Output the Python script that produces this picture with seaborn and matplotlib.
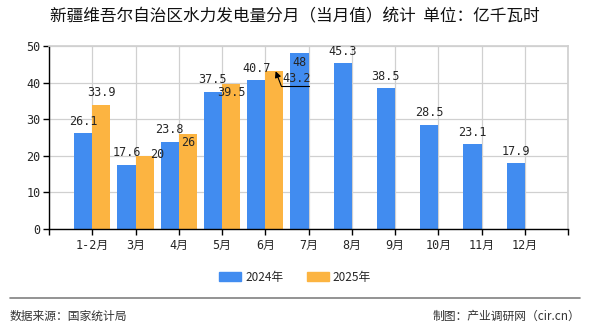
import matplotlib
matplotlib.use("Agg")
import matplotlib.pyplot as plt
import seaborn as sns
import pandas as pd
import numpy as np

months = ["1-2月", "3月", "4月", "5月", "6月", "7月", "8月", "9月", "10月", "11月", "12月"]
v2024 = [26.1, 17.6, 23.8, 37.5, 40.7, 48, 45.3, 38.5, 28.5, 23.1, 17.9]
v2025 = [33.9, 20, 26, 39.5, 43.2]
series = ["2024年", "2025年"]
yticks = [0, 10, 20, 30, 40, 50]

sns.set_theme(style="white")
plt.rcParams['font.family'] = ['Noto Sans CJK SC', 'DejaVu Sans']

rows = [(m, v, "2024年") for m, v in zip(months, v2024)]
rows += [(m, v, "2025年") for m, v in zip(months, v2025)]
rows += [(m, np.nan, "2025年") for m in months[len(v2025):]]
df = pd.DataFrame(rows, columns=["month", "value", "year"])

fig = plt.figure(figsize=(5.9, 3.3), dpi=100)
ax = fig.add_axes([49/590, 1-229/330, 519/590, 183/330])

sns.barplot(data=df, x="month", y="value", hue="year", order=months, hue_order=series,
            palette=["#418cf0", "#fcb441"], width=0.84, saturation=1, ax=ax, legend=False,
            linewidth=0, edgecolor="none")

ax.set_xlim(-1, 11)
ax.set_ylim(0, 50)
ax.set_yticks(yticks)
ax.set_xticks(list(range(len(months))) + [-1, 11])
ax.set_xticklabels(months + ["", ""])
ax.set_xlabel("")
ax.set_ylabel("")
ax.grid(True, color="#d0d0d0", linewidth=0.9)
ax.set_axisbelow(True)
for s in ["top", "right"]:
    ax.spines[s].set_color("#d0d0d0")
for s in ["left", "bottom"]:
    ax.spines[s].set_color("black")
    ax.spines[s].set_linewidth(1.0)
ax.tick_params(axis="both", length=4, width=1, color="black", labelsize=8.5, pad=2, direction="out")
ax.tick_params(axis="x", pad=3)
ax.xaxis.set_ticks_position("bottom")
ax.yaxis.set_ticks_position("left")
mono = ['DejaVu Sans Mono', 'Noto Sans CJK SC']
for lab in ax.get_xticklabels() + ax.get_yticklabels():
    lab.set_fontfamily(mono)

bw = 0.42
def fmt(v):
    return ("%g" % v)
for i, v in enumerate(v2024):
    if i == 5:
        ax.text(i - bw/2, v - 0.7, fmt(v), ha="center", va="top", fontsize=8.5, family=mono)
    else:
        ax.text(i - bw/2, v + 1.5, fmt(v), ha="center", va="bottom", fontsize=8.5, family=mono)
offs = [(0, 1.5, "bottom"), (0.3, 0.3, "center"), (0, -0.5, "top"), (0, -0.5, "top")]
for i, v in enumerate(v2025[:4]):
    dx, dy, va = offs[i]
    ax.text(i + bw/2 + dx, v + dy, fmt(v), ha="center", va=va, fontsize=8.5, family=mono)
# callout label for 6月 2025
ax.text(4.72, 39.3, fmt(v2025[4]), ha="center", va="bottom", fontsize=8.5, family=mono)
ax.plot([4.36, 5.02], [39.1, 39.1], color="black", lw=0.8)
ax.annotate("", xy=(4.24, v2025[4] - 0.1), xytext=(4.37, 39.1),
            arrowprops=dict(arrowstyle="-|>", color="black", lw=0.8, mutation_scale=9,
                            shrinkA=0, shrinkB=0))

fig.text(0.5, 1 - 17/330, "新疆维吾尔自治区水力发电量分月（当月值）统计  单位：亿千瓦时",
         ha="center", va="center", fontsize=12, color="#111111", fontweight="medium")

handles = [plt.Rectangle((0, 0), 1, 1, color=c) for c in ["#418cf0", "#fcb441"]]
fig.legend(handles, series, loc="center", bbox_to_anchor=(0.5, 1 - 277/330), ncol=2,
           frameon=False, fontsize=8.5, handlelength=1.9, handleheight=0.8,
           columnspacing=2.0, handletextpad=0.3)

fig.add_artist(plt.Line2D([10/590, 580/590], [1 - 298/330, 1 - 298/330], color="#808080", lw=1.2))
fig.text(10/590, 1 - 316/330, "数据来源：国家统计局", ha="left", va="center", fontsize=8.5, color="#333333")
fig.text(580/590, 1 - 316/330, "制图：产业调研网（cir.cn）", ha="right", va="center", fontsize=8.5, color="#333333")

fig.savefig("out.png", dpi=100)
